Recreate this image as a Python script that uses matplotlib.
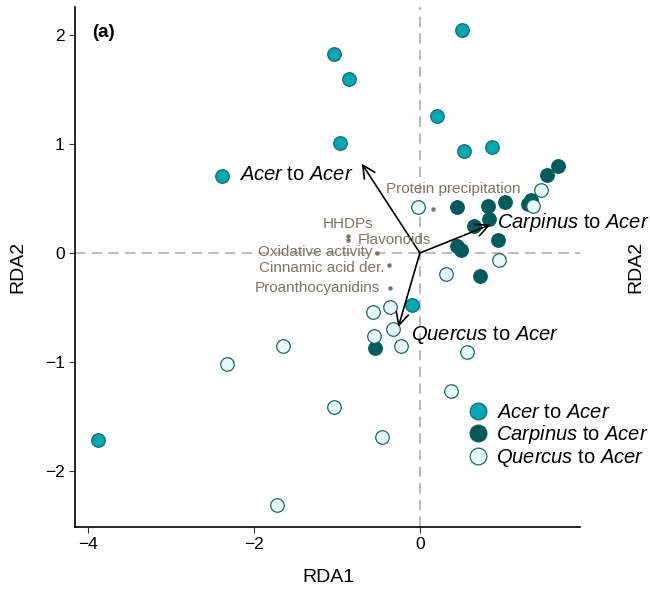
import matplotlib
matplotlib.use("Agg")
import matplotlib.pyplot as plt
from matplotlib.lines import Line2D
import numpy as np

plt.rcParams['font.family'] = ['Liberation Sans', 'DejaVu Sans']
plt.rcParams['mathtext.fontset'] = 'custom'
plt.rcParams['mathtext.rm'] = 'Liberation Sans'
plt.rcParams['mathtext.it'] = 'Liberation Sans:italic'

# site scores per group
acer_x = [0.51, -1.03, -0.85, -0.96, 0.21, 0.53, 0.87, -2.38, -0.09, -3.88]
acer_y = [2.05, 1.83, 1.60, 1.01, 1.26, 0.94, 0.97, 0.71, -0.48, -1.72]

carp_x = [1.66, 1.53, 1.34, 1.30, 0.45, 0.82, 1.02, 0.83, 0.65, 0.94, 0.45, 0.50, 0.73, -0.54]
carp_y = [0.80, 0.72, 0.49, 0.45, 0.42, 0.43, 0.47, 0.31, 0.25, 0.12, 0.06, 0.03, -0.21, -0.87]

querc_x = [1.46, 1.36, -0.02, 0.95, 0.32, -0.56, -0.36, -0.33, -0.55, -0.23, 0.57, 0.37,
           -0.46, -2.32, -1.65, -1.04, -1.72]
querc_y = [0.58, 0.43, 0.42, -0.06, -0.19, -0.54, -0.50, -0.70, -0.76, -0.85, -0.91, -1.27,
           -1.69, -1.02, -0.85, -1.41, -2.31]

# group centroid arrows
arrow_names = ["Acer", "Carpinus", "Quercus"]
arrow_x = [-0.70, 0.85, -0.26]
arrow_y = [0.82, 0.26, -0.68]

# chemistry variables (dot position, label position)
var_names = ["Protein precipitation", "HHDPs", "Flavonoids", "Oxidative activity",
             "Cinnamic acid der.", "Proanthocyanidins"]
var_x = [0.16, -0.87, -0.87, -0.52, -0.37, -0.36]
var_y = [0.40, 0.155, 0.12, 0.0, -0.11, -0.32]
var_lab_x = [0.40, -0.86, -0.31, -1.26, -1.18, -1.24]
var_lab_y = [0.59, 0.27, 0.12, 0.01, -0.135, -0.32]

c_acer = "#00A8B3"
c_carp = "#035B5C"
c_querc = "#E8FBFB"
c_edge = "#1A6A6E"
c_var = "#7D7464"

fig = plt.figure(figsize=(6.5, 5.94), dpi=100)
ax = fig.add_axes([75/650, 1-527/594, 505/650, 520/594])

ax.axhline(0, color="#BEBEBE", lw=1.5, ls=(0, (5, 3)), zorder=1)
ax.axvline(0, color="#BEBEBE", lw=1.5, ls=(0, (5, 3)), zorder=1)

s = 95
ax.scatter(acer_x, acer_y, s=s, c=c_acer, edgecolors=c_edge, linewidths=0.9, zorder=3)
ax.scatter(carp_x, carp_y, s=s, c=c_carp, edgecolors=c_carp, linewidths=0.9, zorder=3)
ax.scatter(querc_x, querc_y, s=s, c=c_querc, edgecolors=c_edge, linewidths=0.9, zorder=3)

for ax_, ay_ in zip(arrow_x, arrow_y):
    ax.annotate("", xy=(ax_, ay_), xytext=(0, 0),
                arrowprops=dict(arrowstyle="->,head_length=0.6,head_width=0.3",
                                color="black", lw=1.2, mutation_scale=15,
                                shrinkA=0, shrinkB=0), zorder=5)

ax.text(-0.80, 0.72, r"$\it{Acer}$ to $\it{Acer}$", fontsize=14.5, ha="right", va="center", zorder=6)
ax.text(0.93, 0.28, r"$\it{Carpinus}$ to $\it{Acer}$", fontsize=14.5, ha="left", va="center", zorder=6)
ax.text(-0.11, -0.75, r"$\it{Quercus}$ to $\it{Acer}$", fontsize=14.5, ha="left", va="center", zorder=6)

ax.scatter(var_x, var_y, s=5, c=c_var, zorder=4)
for name, lx, ly in zip(var_names, var_lab_x, var_lab_y):
    ax.text(lx, ly, name, color=c_var, fontsize=11, ha="center", va="center", zorder=6)

ax.text(-3.95, 2.02, "(a)", fontsize=13.5, fontweight="bold", ha="left", va="center")

ax.set_xlim(-4.157, 1.93)
ax.set_ylim(-2.514, 2.257)
ax.set_xticks([-4, -2, 0])
ax.set_yticks([-2, -1, 0, 1, 2])
ax.set_xticklabels(["\u22124", "\u22122", "0"])
ax.set_yticklabels(["\u22122", "\u22121", "0", "1", "2"])
ax.tick_params(labelsize=12.5, length=4, width=0.8, color="#333333")
for sp in ["top", "right"]:
    ax.spines[sp].set_visible(False)
for sp in ["left", "bottom"]:
    ax.spines[sp].set_linewidth(1.2)

fig.text(328/650, 1-578/594, "RDA1", fontsize=14, ha="center", va="center")
fig.text(18/650, 1-267/594, "RDA2", fontsize=14, ha="center", va="center", rotation=90)
fig.text(636/650, 1-267/594, "RDA2", fontsize=14, ha="center", va="center", rotation=90)

handles = [
    Line2D([], [], ls="", marker="o", ms=12, mfc=c_acer, mec=c_edge, mew=0.9),
    Line2D([], [], ls="", marker="o", ms=12, mfc=c_carp, mec=c_carp, mew=0.9),
    Line2D([], [], ls="", marker="o", ms=12, mfc=c_querc, mec=c_edge, mew=0.9),
]
labels = [r"$\it{Acer}$ to $\it{Acer}$", r"$\it{Carpinus}$ to $\it{Acer}$",
          r"$\it{Quercus}$ to $\it{Acer}$"]
fig.legend(handles, labels, loc="upper left", bbox_to_anchor=(456/650, 1-393/594),
           frameon=False, fontsize=14.5, handletextpad=0.3, labelspacing=0.05,
           handlelength=1.2, borderpad=0)

fig.savefig("out.png", dpi=100)
